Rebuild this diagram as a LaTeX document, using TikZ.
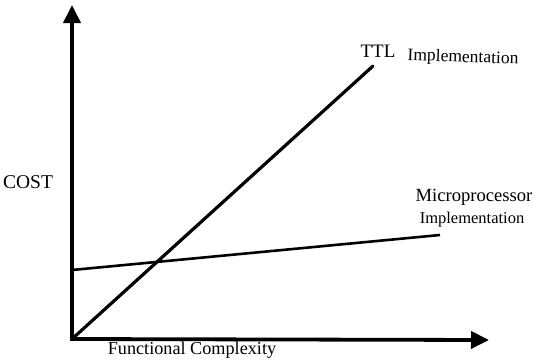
\documentclass[tikz,border=0pt]{standalone}
\usepackage{fontspec}
\setmainfont{Liberation Serif}
\usetikzlibrary{arrows.meta}
\begin{document}
\begin{tikzpicture}[x=1pt,y=-1pt,
  axis/.style={line width=3.8pt,-{Triangle[width=17pt,length=18pt]}},
  curve/.style={line width=3.2pt},
  lbl/.style={inner sep=0pt},
  fs/.style={font=\fontsize{#1}{#1}\selectfont}]
\useasboundingbox (0,0) rectangle (538,364);
\coordinate (O) at (72,339);
\coordinate (ytip) at (72,5);
\coordinate (xtip) at (489,340);
\coordinate (ttlend) at (373,66);
\coordinate (mstart) at (72,270);
\coordinate (mend) at (440,235);
\draw[axis] ([yshift=-1.9pt]O) -- (ytip);
\draw[axis] ([xshift=-1.9pt]O) -- (xtip);
\draw[curve,line cap=round] (O) -- (ttlend);
\draw[curve,line width=2.6pt] (mstart) -- (mend);
\node[lbl,fs=19.5] (cost) at (28,182) {COST};
\node[lbl,fs=19] (ttl) at (378,51) {TTL};
\node[lbl,fs=17.5,rotate=-2] (ttlimp) at (463,58) {Implementation};
\node[lbl,fs=18.6] (micro) at (474,197) {Microprocessor};
\node[lbl,fs=16.5] (microimp) at (472,220) {Implementation};
\node[lbl,fs=18.2] (fc) at (192,350) {Functional Complexity};
\end{tikzpicture}
\end{document}
